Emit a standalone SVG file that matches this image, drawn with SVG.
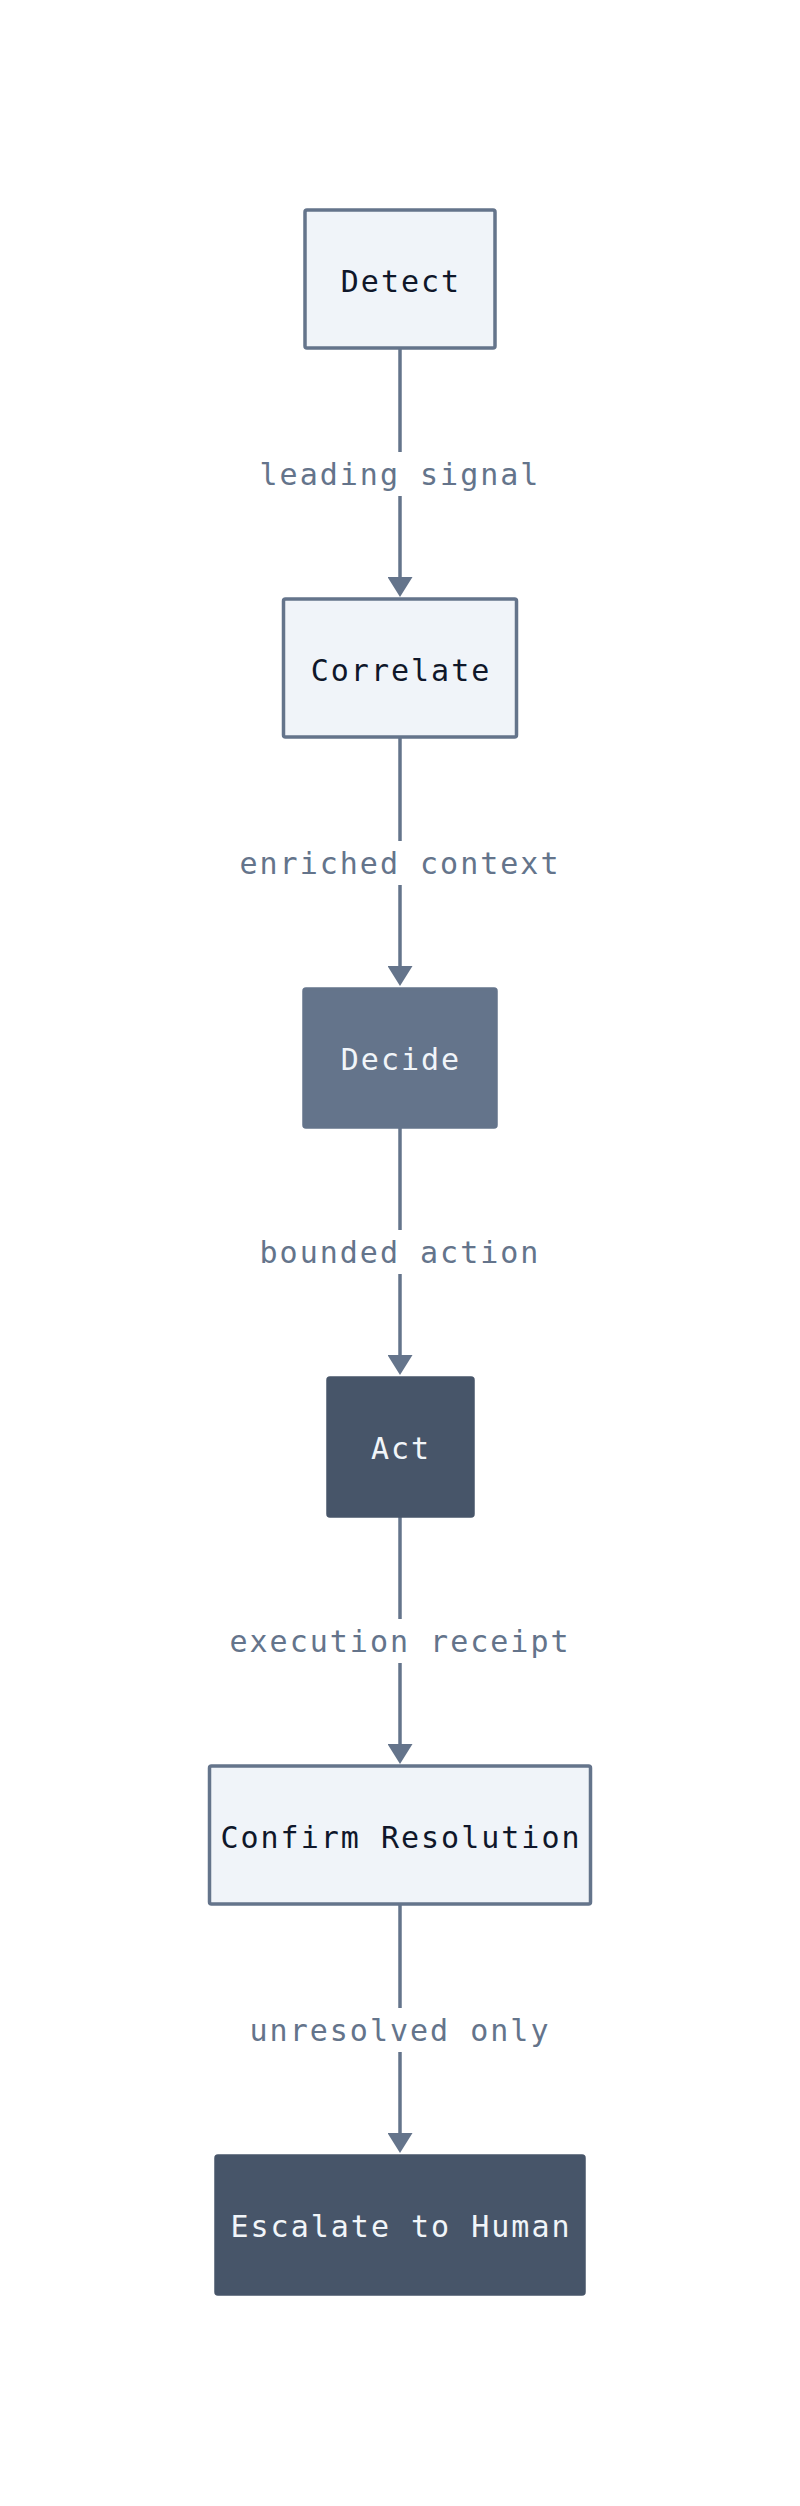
<svg xmlns="http://www.w3.org/2000/svg" width="800" height="2506" viewBox="0 0 800 2506">
<style>
.box{stroke:#64748b;stroke-width:3.5}
.light{fill:#f0f4f9}
.mid{fill:#64748b;stroke:#64748b;stroke-width:3.5}
.dark{fill:#475569;stroke:#475569;stroke-width:3.5}
.nt{font-family:"DejaVu Sans Mono",monospace;font-size:30px;letter-spacing:2px;text-anchor:middle}
.ntd{fill:#0f172a}
.ntl{fill:#f1f5f9}
.lt{font-family:"DejaVu Sans Mono",monospace;font-size:30px;letter-spacing:2px;text-anchor:middle;fill:#64748b}
.edge{stroke:#64748b;stroke-width:3.5;fill:none}
.lbg{fill:#ffffff}
</style>
<defs>
<marker id="arr" viewBox="0 0 20 25" refX="5" refY="12.5" markerWidth="20" markerHeight="25" markerUnits="userSpaceOnUse" orient="auto">
<path d="M0,0 L20,12.5 L0,25 z" fill="#64748b"/>
</marker>
</defs>
<rect width="800" height="2506" fill="#ffffff"/>
<g id="connectors">
<line class="edge" x1="400" y1="348" x2="400" y2="582" marker-end="url(#arr)"/>
<line class="edge" x1="400" y1="737" x2="400" y2="971" marker-end="url(#arr)"/>
<line class="edge" x1="400" y1="1126" x2="400" y2="1360" marker-end="url(#arr)"/>
<line class="edge" x1="400" y1="1515" x2="400" y2="1749" marker-end="url(#arr)"/>
<line class="edge" x1="400" y1="1904" x2="400" y2="2138" marker-end="url(#arr)"/>
<rect class="lbg" x="262" y="452" width="276" height="44"/>
<text class="lt" x="400" y="485">leading signal</text>
<rect class="lbg" x="238" y="841" width="324" height="44"/>
<text class="lt" x="400" y="874">enriched context</text>
<rect class="lbg" x="258" y="1230" width="284" height="44"/>
<text class="lt" x="400" y="1263">bounded action</text>
<rect class="lbg" x="228" y="1619" width="344" height="44"/>
<text class="lt" x="400" y="1652">execution receipt</text>
<rect class="lbg" x="248" y="2008" width="304" height="44"/>
<text class="lt" x="400" y="2041">unresolved only</text>
</g>
<g id="detect">
<rect class="box light" x="305" y="210" width="190" height="138" rx="2"/>
<text class="nt ntd" x="401" y="292">Detect</text>
</g>
<g id="correlate">
<rect class="box light" x="283.5" y="599" width="233" height="138" rx="2"/>
<text class="nt ntd" x="401" y="681">Correlate</text>
</g>
<g id="decide">
<rect class="mid" x="304" y="989" width="192" height="138" rx="2"/>
<text class="nt ntl" x="401" y="1070">Decide</text>
</g>
<g id="act">
<rect class="dark" x="328" y="1378" width="145" height="138" rx="2"/>
<text class="nt ntl" x="401" y="1459">Act</text>
</g>
<g id="confirm">
<rect class="box light" x="209.5" y="1766" width="381" height="138" rx="2"/>
<text class="nt ntd" x="401" y="1848">Confirm Resolution</text>
</g>
<g id="escalate">
<rect class="dark" x="216" y="2156" width="368" height="138" rx="2"/>
<text class="nt ntl" x="401" y="2237">Escalate to Human</text>
</g>
</svg>
